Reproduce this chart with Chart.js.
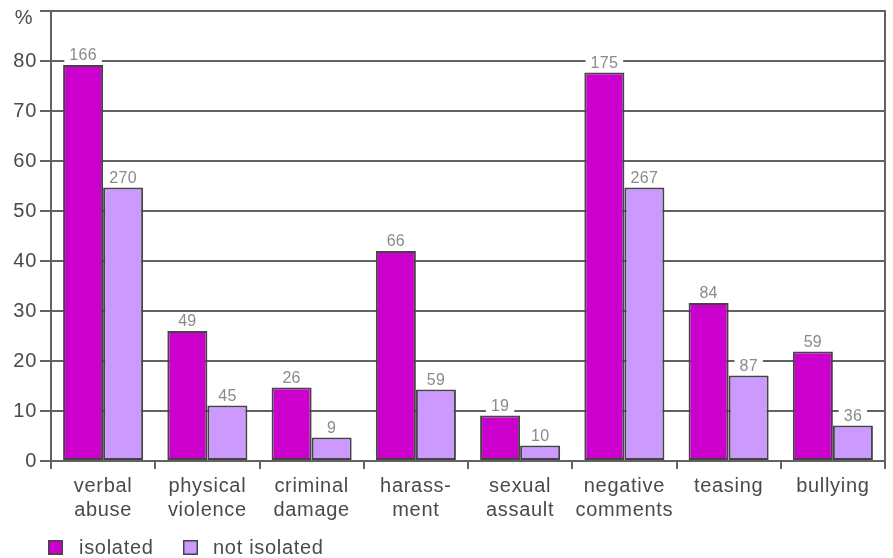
<!DOCTYPE html>
<html>
<head>
<meta charset="utf-8">
<script src="https://cdn.jsdelivr.net/npm/chart.js@4/dist/chart.umd.min.js"></script>
<style>
html,body{margin:0;padding:0;background:#fff;}
#wrap{width:893px;height:558px;position:relative;}
</style>
</head>
<body>
<div id="wrap"><canvas id="c" width="893" height="558"></canvas></div>
<script>
const categories = [['verbal','abuse'],['physical','violence'],['criminal','damage'],['harass-','ment'],['sexual','assault'],['negative','comments'],['teasing'],['bullying']];
const seriesNames = ['isolated','not isolated'];
const isolated = [79.2, 26.0, 14.7, 42.0, 9.1, 77.7, 31.6, 21.9];
const notIsolated = [54.7, 11.1, 4.7, 14.3, 3.1, 54.7, 17.1, 7.1];
const isolatedCounts = [166, 49, 26, 66, 19, 175, 84, 59];
const notIsolatedCounts = [270, 45, 9, 59, 10, 267, 87, 36];
const yTickValues = [0, 10, 20, 30, 40, 50, 60, 70, 80];
const yMax = 90;

const FONT = "'Liberation Sans', Arial, sans-serif";
const GRID = '#626262';
const TEXT = '#4a4a4a';
const COLORS = ['#CC00CC', '#CC99FF'];
const counts = [isolatedCounts, notIsolatedCounts];

const labelPlugin = {
  id: 'labels',
  beforeDraw(chart) {
    try { chart.ctx.letterSpacing = '0.7px'; } catch (e) {}
  },
  afterDatasetsDraw(chart) {
    const ctx = chart.ctx;
    ctx.save();
    try { ctx.letterSpacing = '0.3px'; } catch (e) {}
    ctx.font = '16px ' + FONT;
    ctx.textAlign = 'center';
    ctx.textBaseline = 'alphabetic';
    chart.data.datasets.forEach((ds, di) => {
      const meta = chart.getDatasetMeta(di);
      meta.data.forEach((bar, i) => {
        const t = String(counts[di][i]);
        const w = ctx.measureText(t).width;
        const by = bar.y - 5;
        ctx.fillStyle = '#ffffff';
        ctx.fillRect(bar.x - w / 2 - 5, by - 14, w + 10, 16);
        ctx.fillStyle = '#8a8a8a';
        ctx.fillText(t, bar.x, by);
      });
    });
    ctx.restore();
  },
  afterDraw(chart) {
    const ctx = chart.ctx;
    const a = chart.chartArea;
    ctx.save();
    try { ctx.letterSpacing = '0.7px'; } catch (e) {}
    ctx.strokeStyle = GRID;
    ctx.lineWidth = 2;
    ctx.beginPath();
    ctx.moveTo(a.right, a.top - 1);
    ctx.lineTo(a.right, a.bottom + 8);
    ctx.stroke();
    ctx.fillStyle = TEXT;
    ctx.font = '20px ' + FONT;
    ctx.textAlign = 'center';
    ctx.textBaseline = 'middle';
    ctx.fillText('%', 24, 18);
    const items = [{x: 48, tx: 79}, {x: 183, tx: 213}];
    ctx.textAlign = 'left';
    ctx.textBaseline = 'alphabetic';
    chart.data.datasets.forEach((ds, di) => {
      const it = items[di];
      ctx.fillStyle = ds.backgroundColor;
      ctx.fillRect(it.x, 540, 15, 15);
      ctx.strokeStyle = '#444';
      ctx.lineWidth = 1.5;
      ctx.strokeRect(it.x + 0.75, 540.75, 13.5, 13.5);
      ctx.fillStyle = TEXT;
      ctx.fillText(ds.label, it.tx, 554);
    });
    ctx.restore();
  }
};

new Chart(document.getElementById('c'), {
  type: 'bar',
  data: {
    labels: categories,
    datasets: [
      {label: seriesNames[0], data: isolated, backgroundColor: COLORS[0], borderColor: '#444', borderWidth: 2, borderSkipped: false},
      {label: seriesNames[1], data: notIsolated, backgroundColor: COLORS[1], borderColor: '#444', borderWidth: 2, borderSkipped: false}
    ]
  },
  options: {
    responsive: false,
    animation: false,
    layout: {padding: {top: 11, right: 8, left: 0, bottom: 0}},
    datasets: {bar: {categoryPercentage: 0.768, barPercentage: 1.0}},
    plugins: {legend: {display: false}, tooltip: {enabled: false}},
    scales: {
      x: {
        grid: {offset: true, drawOnChartArea: false, color: GRID, lineWidth: 2, tickLength: 8},
        border: {display: true, color: GRID, width: 2},
        ticks: {color: TEXT, font: {family: FONT, size: 20, lineHeight: 1.2}, padding: 5, maxRotation: 0, autoSkip: false},
        afterFit(s) { s.height = 97; s.paddingLeft = 0; s.paddingRight = 0; }
      },
      y: {
        min: 0, max: yMax,
        afterBuildTicks(s) { s.ticks = yTickValues.concat([yMax]).map(v => ({value: v})); },
        grid: {color: GRID, lineWidth: 2, tickLength: 11},
        border: {display: true, color: GRID, width: 2},
        ticks: {color: TEXT, font: {family: FONT, size: 20}, padding: 3,
          callback: (v) => (yTickValues.includes(v) ? String(v) : '')},
        afterFit(s) { s.width = 51; s.paddingTop = 0; s.paddingBottom = 0; }
      }
    }
  },
  plugins: [labelPlugin]
});
</script>
</body>
</html>
